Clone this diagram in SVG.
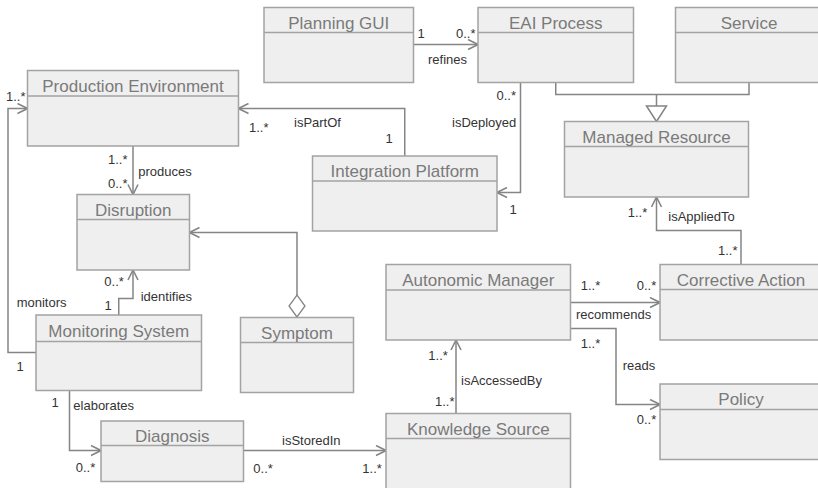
<svg xmlns="http://www.w3.org/2000/svg" width="818" height="488" viewBox="0 0 818 488">
  <style>
    .box { fill: #efefef; stroke: #a3a3a3; stroke-width: 1.5; }
    .div { stroke: #a3a3a3; stroke-width: 1.5; fill: none; }
    .title { font-family: "Liberation Sans", Arial, sans-serif; font-size: 17px; fill: #7a7a7a; text-anchor: middle; }
    .conn { fill: none; stroke: #858585; stroke-width: 1.5; }
    .lbl { font-family: "Liberation Sans", Arial, sans-serif; font-size: 13px; fill: #333333; }
    .mid { text-anchor: middle; }
  </style>
  <defs>
    <marker id="arrow" viewBox="0 0 12 12" refX="11" refY="6" markerWidth="12" markerHeight="12" markerUnits="userSpaceOnUse" orient="auto">
      <path d="M1,1 L11,6 L1,11" fill="none" stroke="#858585" stroke-width="1.6"/>
    </marker>
    <marker id="diamond" viewBox="0 0 26 18" refX="1" refY="9" markerWidth="26" markerHeight="18" markerUnits="userSpaceOnUse" orient="auto">
      <path d="M1,9 L12,1 L23,9 L12,17 Z" fill="#ffffff" stroke="#858585" stroke-width="1.3"/>
    </marker>
  </defs>
  <rect width="818" height="488" fill="#ffffff"/>

  <g id="connectors">
    <!-- refines -->
    <path class="conn" d="M413.5,44.5 H478" marker-end="url(#arrow)"/>
    <!-- isDeployed -->
    <path class="conn" d="M520.5,82.5 V192.5 H497" marker-end="url(#arrow)"/>
    <!-- isPartOf -->
    <path class="conn" d="M404.75,156 V108.5 H238.5" marker-end="url(#arrow)"/>
    <!-- produces -->
    <path class="conn" d="M133,146 V194.5" marker-end="url(#arrow)"/>
    <!-- monitors -->
    <path class="conn" d="M36,352.5 H8 V108.5 H27.5" marker-end="url(#arrow)"/>
    <!-- identifies -->
    <path class="conn" d="M118.75,315 V298.5 H133 V270" marker-end="url(#arrow)"/>
    <!-- Symptom aggregated into Disruption -->
    <path class="conn" d="M297,317 V232.5 H189.5" marker-start="url(#diamond)" marker-end="url(#arrow)"/>
    <!-- elaborates -->
    <path class="conn" d="M69.5,390.5 V450.5 H101" marker-end="url(#arrow)"/>
    <!-- isStoredIn -->
    <path class="conn" d="M243.5,450.5 H386" marker-end="url(#arrow)"/>
    <!-- isAccessedBy -->
    <path class="conn" d="M456,413.5 V340" marker-end="url(#arrow)"/>
    <!-- recommends -->
    <path class="conn" d="M570.5,302.5 H660" marker-end="url(#arrow)"/>
    <!-- reads -->
    <path class="conn" d="M570.5,328.5 H616 V404.5 H660" marker-end="url(#arrow)"/>
    <!-- isAppliedTo -->
    <path class="conn" d="M741,264.5 V230.5 H656.5 V197" marker-end="url(#arrow)"/>
    <!-- generalization: EAI Process, Service -> Managed Resource -->
    <path class="conn" d="M555.75,82.5 V94.5 H749 V82.5 M656.5,94.5 V106"/>
    <path d="M646.5,106 L666.5,106 L656.5,121.5 Z" fill="#ffffff" stroke="#858585" stroke-width="1.5"/>

    <!-- connector labels -->
    <text class="lbl mid" x="421" y="37.5">1</text>
    <text class="lbl" x="456" y="37.5">0..*</text>
    <text class="lbl mid" x="447.5" y="63.5">refines</text>
    <text class="lbl" x="496.5" y="99.5">0..*</text>
    <text class="lbl" x="452" y="127">isDeployed</text>
    <text class="lbl mid" x="513" y="213.5">1</text>
    <text class="lbl" x="249" y="132">1..*</text>
    <text class="lbl" x="294" y="127">isPartOf</text>
    <text class="lbl mid" x="389" y="142.5">1</text>
    <text class="lbl" x="108" y="163.5">1..*</text>
    <text class="lbl" x="138.3" y="175.5">produces</text>
    <text class="lbl" x="108" y="187.5">0..*</text>
    <text class="lbl" x="6" y="101">1..*</text>
    <text class="lbl" x="16.7" y="307">monitors</text>
    <text class="lbl mid" x="20" y="370.5">1</text>
    <text class="lbl" x="104.3" y="286">0..*</text>
    <text class="lbl mid" x="108" y="309.5">1</text>
    <text class="lbl" x="140.7" y="300.5">identifies</text>
    <text class="lbl mid" x="55" y="407">1</text>
    <text class="lbl" x="73.3" y="409.5">elaborates</text>
    <text class="lbl" x="75.7" y="471.5">0..*</text>
    <text class="lbl" x="282" y="445">isStoredIn</text>
    <text class="lbl" x="253.3" y="472.5">0..*</text>
    <text class="lbl" x="362.3" y="472.5">1..*</text>
    <text class="lbl" x="428.3" y="359.5">1..*</text>
    <text class="lbl" x="461" y="385">isAccessedBy</text>
    <text class="lbl" x="435" y="406">1..*</text>
    <text class="lbl" x="580.7" y="289.5">1..*</text>
    <text class="lbl" x="636.7" y="289.5">0..*</text>
    <text class="lbl" x="576" y="318.5">recommends</text>
    <text class="lbl" x="580.7" y="347.5">1..*</text>
    <text class="lbl" x="622.7" y="370">reads</text>
    <text class="lbl" x="636.7" y="423.5">0..*</text>
    <text class="lbl" x="627.7" y="216.5">1..*</text>
    <text class="lbl" x="668.3" y="220.5">isAppliedTo</text>
    <text class="lbl" x="718" y="255">1..*</text>
  </g>

  <g id="planning-gui">
    <rect class="box" x="264" y="7.5" width="149.5" height="75"/>
    <line class="div" x1="264" y1="32.5" x2="413.5" y2="32.5"/>
    <text class="title" x="338.75" y="28.5">Planning GUI</text>
  </g>
  <g id="eai-process">
    <rect class="box" x="478" y="7.5" width="155.5" height="75"/>
    <line class="div" x1="478" y1="32.5" x2="633.5" y2="32.5"/>
    <text class="title" x="555.75" y="28.5">EAI Process</text>
  </g>
  <g id="service">
    <rect class="box" x="675.5" y="7.5" width="147" height="75"/>
    <line class="div" x1="675.5" y1="32.5" x2="822.5" y2="32.5"/>
    <text class="title" x="749" y="28.5">Service</text>
  </g>
  <g id="production-environment">
    <rect class="box" x="27.5" y="70.5" width="211" height="75.5"/>
    <line class="div" x1="27.5" y1="96" x2="238.5" y2="96"/>
    <text class="title" x="133" y="92">Production Environment</text>
  </g>
  <g id="managed-resource">
    <rect class="box" x="564.5" y="121.5" width="184" height="75.5"/>
    <line class="div" x1="564.5" y1="146.5" x2="748.5" y2="146.5"/>
    <text class="title" x="656.5" y="142.5">Managed Resource</text>
  </g>
  <g id="integration-platform">
    <rect class="box" x="312.5" y="156" width="184.5" height="75"/>
    <line class="div" x1="312.5" y1="181" x2="497" y2="181"/>
    <text class="title" x="404.75" y="177">Integration Platform</text>
  </g>
  <g id="disruption">
    <rect class="box" x="77" y="194.5" width="112.5" height="75.5"/>
    <line class="div" x1="77" y1="219.5" x2="189.5" y2="219.5"/>
    <text class="title" x="133.25" y="215.5">Disruption</text>
  </g>
  <g id="autonomic-manager">
    <rect class="box" x="386" y="264.5" width="184.5" height="75.5"/>
    <line class="div" x1="386" y1="290" x2="570.5" y2="290"/>
    <text class="title" x="478.25" y="285.5">Autonomic Manager</text>
  </g>
  <g id="corrective-action">
    <rect class="box" x="660" y="264.5" width="162" height="75.5"/>
    <line class="div" x1="660" y1="289.5" x2="822" y2="289.5"/>
    <text class="title" x="741" y="285.5">Corrective Action</text>
  </g>
  <g id="monitoring-system">
    <rect class="box" x="36" y="315" width="165.5" height="75.5"/>
    <line class="div" x1="36" y1="341.5" x2="201.5" y2="341.5"/>
    <text class="title" x="118.75" y="336.5">Monitoring System</text>
  </g>
  <g id="symptom">
    <rect class="box" x="240.5" y="317.5" width="113" height="75"/>
    <line class="div" x1="240.5" y1="342.5" x2="353.5" y2="342.5"/>
    <text class="title" x="297" y="338.5">Symptom</text>
  </g>
  <g id="policy">
    <rect class="box" x="660" y="384" width="162" height="75.5"/>
    <line class="div" x1="660" y1="409.5" x2="822" y2="409.5"/>
    <text class="title" x="741" y="405">Policy</text>
  </g>
  <g id="diagnosis">
    <rect class="box" x="101" y="421" width="142.5" height="60.5"/>
    <line class="div" x1="101" y1="445.5" x2="243.5" y2="445.5"/>
    <text class="title" x="172.25" y="441.5">Diagnosis</text>
  </g>
  <g id="knowledge-source">
    <rect class="box" x="386" y="413.5" width="184.5" height="100"/>
    <line class="div" x1="386" y1="438.5" x2="570.5" y2="438.5"/>
    <text class="title" x="478.25" y="434.5">Knowledge Source</text>
  </g>
</svg>
